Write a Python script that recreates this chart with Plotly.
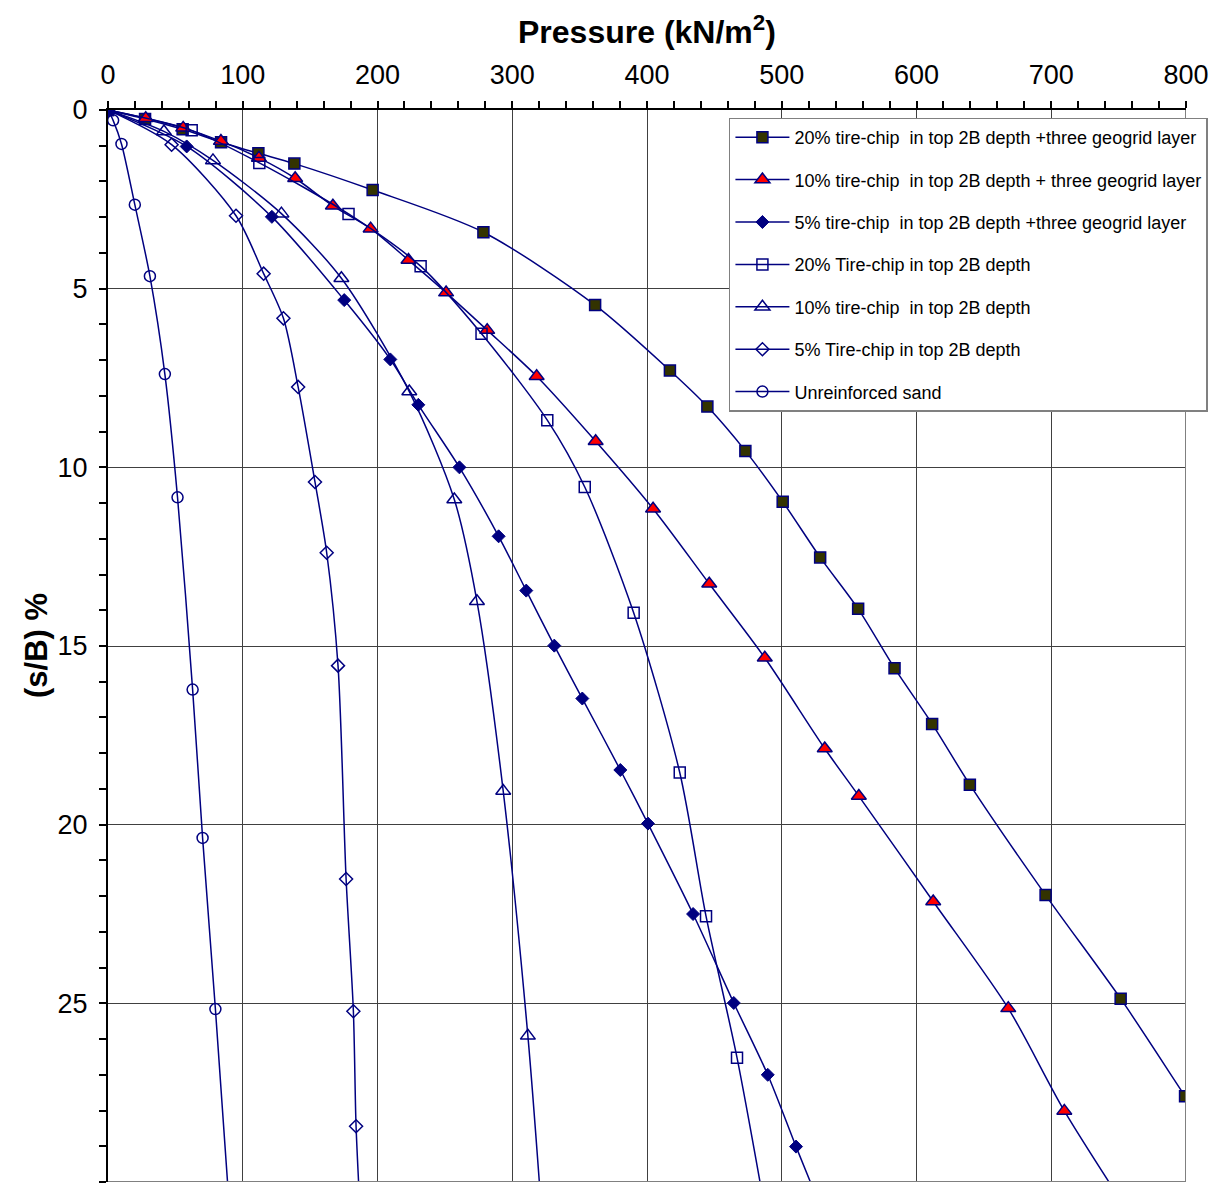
import plotly.graph_objects as go

# ---- data (pressure kN/m2, settlement ratio s/B %) ----
names = [
    "20% tire-chip\u00a0 in top 2B depth +three geogrid layer",
    "10% tire-chip\u00a0 in top 2B depth + three geogrid layer",
    "5% tire-chip\u00a0 in top 2B depth +three geogrid layer",
    "20% Tire-chip in top 2B depth",
    "10% tire-chip\u00a0 in top 2B depth",
    "5% Tire-chip in top 2B depth",
    "Unreinforced sand",
]

tc20_geo_x = [0, 27.5, 55.4, 83.9, 111.6, 138.3, 196.4, 278.6, 361.5, 417, 444.8, 473, 500.7, 528.5, 556.7, 583.7, 611.6, 639.6, 695.8, 751.5, 799.3, 845]
tc20_geo_y = [0, 0.25, 0.54, 0.9, 1.21, 1.5, 2.24, 3.42, 5.46, 7.29, 8.3, 9.54, 10.96, 12.52, 13.96, 15.62, 17.18, 18.88, 21.97, 24.87, 27.6, 30.2]

tc10_geo_x = [0, 28, 55.8, 83.8, 112, 138.9, 166.9, 194.9, 223, 250.9, 281.4, 318.1, 361.9, 404.5, 446.2, 487.4, 531.9, 557.2, 612.4, 668.1, 709.7, 760]
tc10_geo_y = [0, 0.23, 0.5, 0.87, 1.34, 1.91, 2.68, 3.32, 4.2, 5.11, 6.16, 7.45, 9.27, 11.16, 13.26, 15.33, 17.87, 19.2, 22.15, 25.14, 28.01, 31.0]

tc5_geo_x = [0, 58.4, 121.6, 175.3, 209.5, 230.3, 260.8, 289.9, 310.4, 331.2, 352, 380.2, 400.7, 434.2, 464.4, 489.6, 510.6, 532]
tc5_geo_y = [0, 1.02, 2.99, 5.32, 6.98, 8.25, 10.0, 11.93, 13.45, 14.99, 16.47, 18.47, 19.97, 22.5, 24.99, 27.0, 29.01, 31.0]

tc20_x = [0, 62.1, 112.3, 178.5, 232, 277.2, 326, 353.8, 390.1, 424.3, 443.8, 466.8, 490]
tc20_y = [0, 0.57, 1.48, 2.91, 4.37, 6.26, 8.68, 10.55, 14.07, 18.54, 22.56, 26.52, 31.3]

tc10_x = [0, 41.5, 77.9, 128.7, 173.2, 223.6, 257, 273.8, 293.3, 311.6, 323]
tc10_y = [0, 0.6, 1.41, 2.9, 4.71, 7.88, 10.9, 13.75, 19.06, 25.91, 31.5]

tc5_x = [0, 47.2, 95, 115.5, 130.2, 141.1, 153.6, 162.3, 170.7, 176.7, 182.1, 184.1, 188]
tc5_y = [0, 0.97, 2.96, 4.58, 5.83, 7.75, 10.41, 12.39, 15.55, 21.52, 25.22, 28.44, 31.5]

sand_x = [0, 3.8, 10, 19.9, 31.1, 42.2, 51.6, 62.8, 70.2, 79.7, 91.5]
sand_y = [0, 0.29, 0.95, 2.65, 4.65, 7.39, 10.84, 16.22, 20.37, 25.16, 31.5]

x_ticks = [0, 100, 200, 300, 400, 500, 600, 700, 800]
y_ticks = [0, 5, 10, 15, 20, 25, 30]

# ---- styles ----
NAVY = "#000080"
series = [
    (tc20_geo_x, tc20_geo_y, dict(symbol="square", size=11, color="#333300", line=dict(color=NAVY, width=1.5))),
    (tc10_geo_x, tc10_geo_y, dict(symbol="triangle-up", size=13, color="#FF0000", line=dict(color=NAVY, width=1.5))),
    (tc5_geo_x, tc5_geo_y, dict(symbol="diamond", size=10, color=NAVY, line=dict(color=NAVY, width=1))),
    (tc20_x, tc20_y, dict(symbol="square-open", size=11, color=NAVY, line=dict(color=NAVY, width=1.5))),
    (tc10_x, tc10_y, dict(symbol="triangle-up-open", size=13, color=NAVY, line=dict(color=NAVY, width=1.5))),
    (tc5_x, tc5_y, dict(symbol="diamond-open", size=10, color=NAVY, line=dict(color=NAVY, width=1.5))),
    (sand_x, sand_y, dict(symbol="circle-open", size=11, color=NAVY, line=dict(color=NAVY, width=1.5))),
]

fig = go.Figure()
for name, (xs, ys, mk) in zip(names, series):
    fig.add_trace(go.Scatter(
        x=xs, y=ys, name=name, legendgroup=name,
        mode="lines+markers",
        line=dict(color=NAVY, width=1.5, shape="spline", smoothing=0.8),
        marker=mk,
    ))

FONT = "Arial, Liberation Sans, sans-serif"
GRID = "#404040"

# the page body adds an 8px margin, so the figure is sized and placed to compensate
fig.update_layout(
    width=1211, height=1185,
    margin=dict(l=100, r=33, t=102, b=11),
    paper_bgcolor="white", plot_bgcolor="white",
    font=dict(family=FONT, color="black"),
    showlegend=True,
    legend=dict(
        x=0.576, y=0.993, xanchor="left", yanchor="top",
        bgcolor="white", bordercolor="#808080", borderwidth=1.5,
        font=dict(size=18, family=FONT, color="black"),
        tracegroupgap=16, itemwidth=54,
    ),
    xaxis=dict(
        side="top", range=[0, 800], tickvals=x_ticks,
        tickfont=dict(size=27), ticks="outside", ticklen=7, tickcolor="black", tickwidth=1.5,
        ticklabelstandoff=6,
        minor=dict(dtick=20, ticks="outside", ticklen=7, tickcolor="black", tickwidth=1.5, showgrid=False),
        showline=True, linecolor="black", linewidth=2,
        showgrid=True, gridcolor=GRID, gridwidth=1,
        zeroline=False, automargin=False,
    ),
    yaxis=dict(
        range=[30, 0], tickvals=y_ticks,
        tickfont=dict(size=27), ticks="outside", ticklen=7, tickcolor="black", tickwidth=1.5,
        ticklabelstandoff=6,
        minor=dict(dtick=1, ticks="outside", ticklen=7, tickcolor="black", tickwidth=1.5, showgrid=False),
        showline=True, linecolor="black", linewidth=2,
        showgrid=True, gridcolor=GRID, gridwidth=1,
        zeroline=False, automargin=False,
    ),
    annotations=[
        dict(text="<b>Pressure (kN/m<sup>2</sup>)</b>", xref="paper", yref="paper", x=0.5, y=1,
             xanchor="center", yanchor="middle", yshift=80,
             showarrow=False, font=dict(size=32, family=FONT, color="black")),
        dict(text="<b>(s/B) %</b>", xref="paper", yref="paper", x=0, y=0.5,
             xanchor="center", yanchor="middle", xshift=-72, textangle=-90,
             showarrow=False, font=dict(size=31, family=FONT, color="black")),
    ],
    shapes=[
        dict(type="line", xref="x", yref="y", x0=800, x1=800, y0=0, y1=30, line=dict(color="#808080", width=2), layer="above"),
        dict(type="line", xref="x", yref="y", x0=0, x1=800, y0=30, y1=30, line=dict(color="#808080", width=2), layer="above"),
    ],
)

fig.write_html("out.html")
